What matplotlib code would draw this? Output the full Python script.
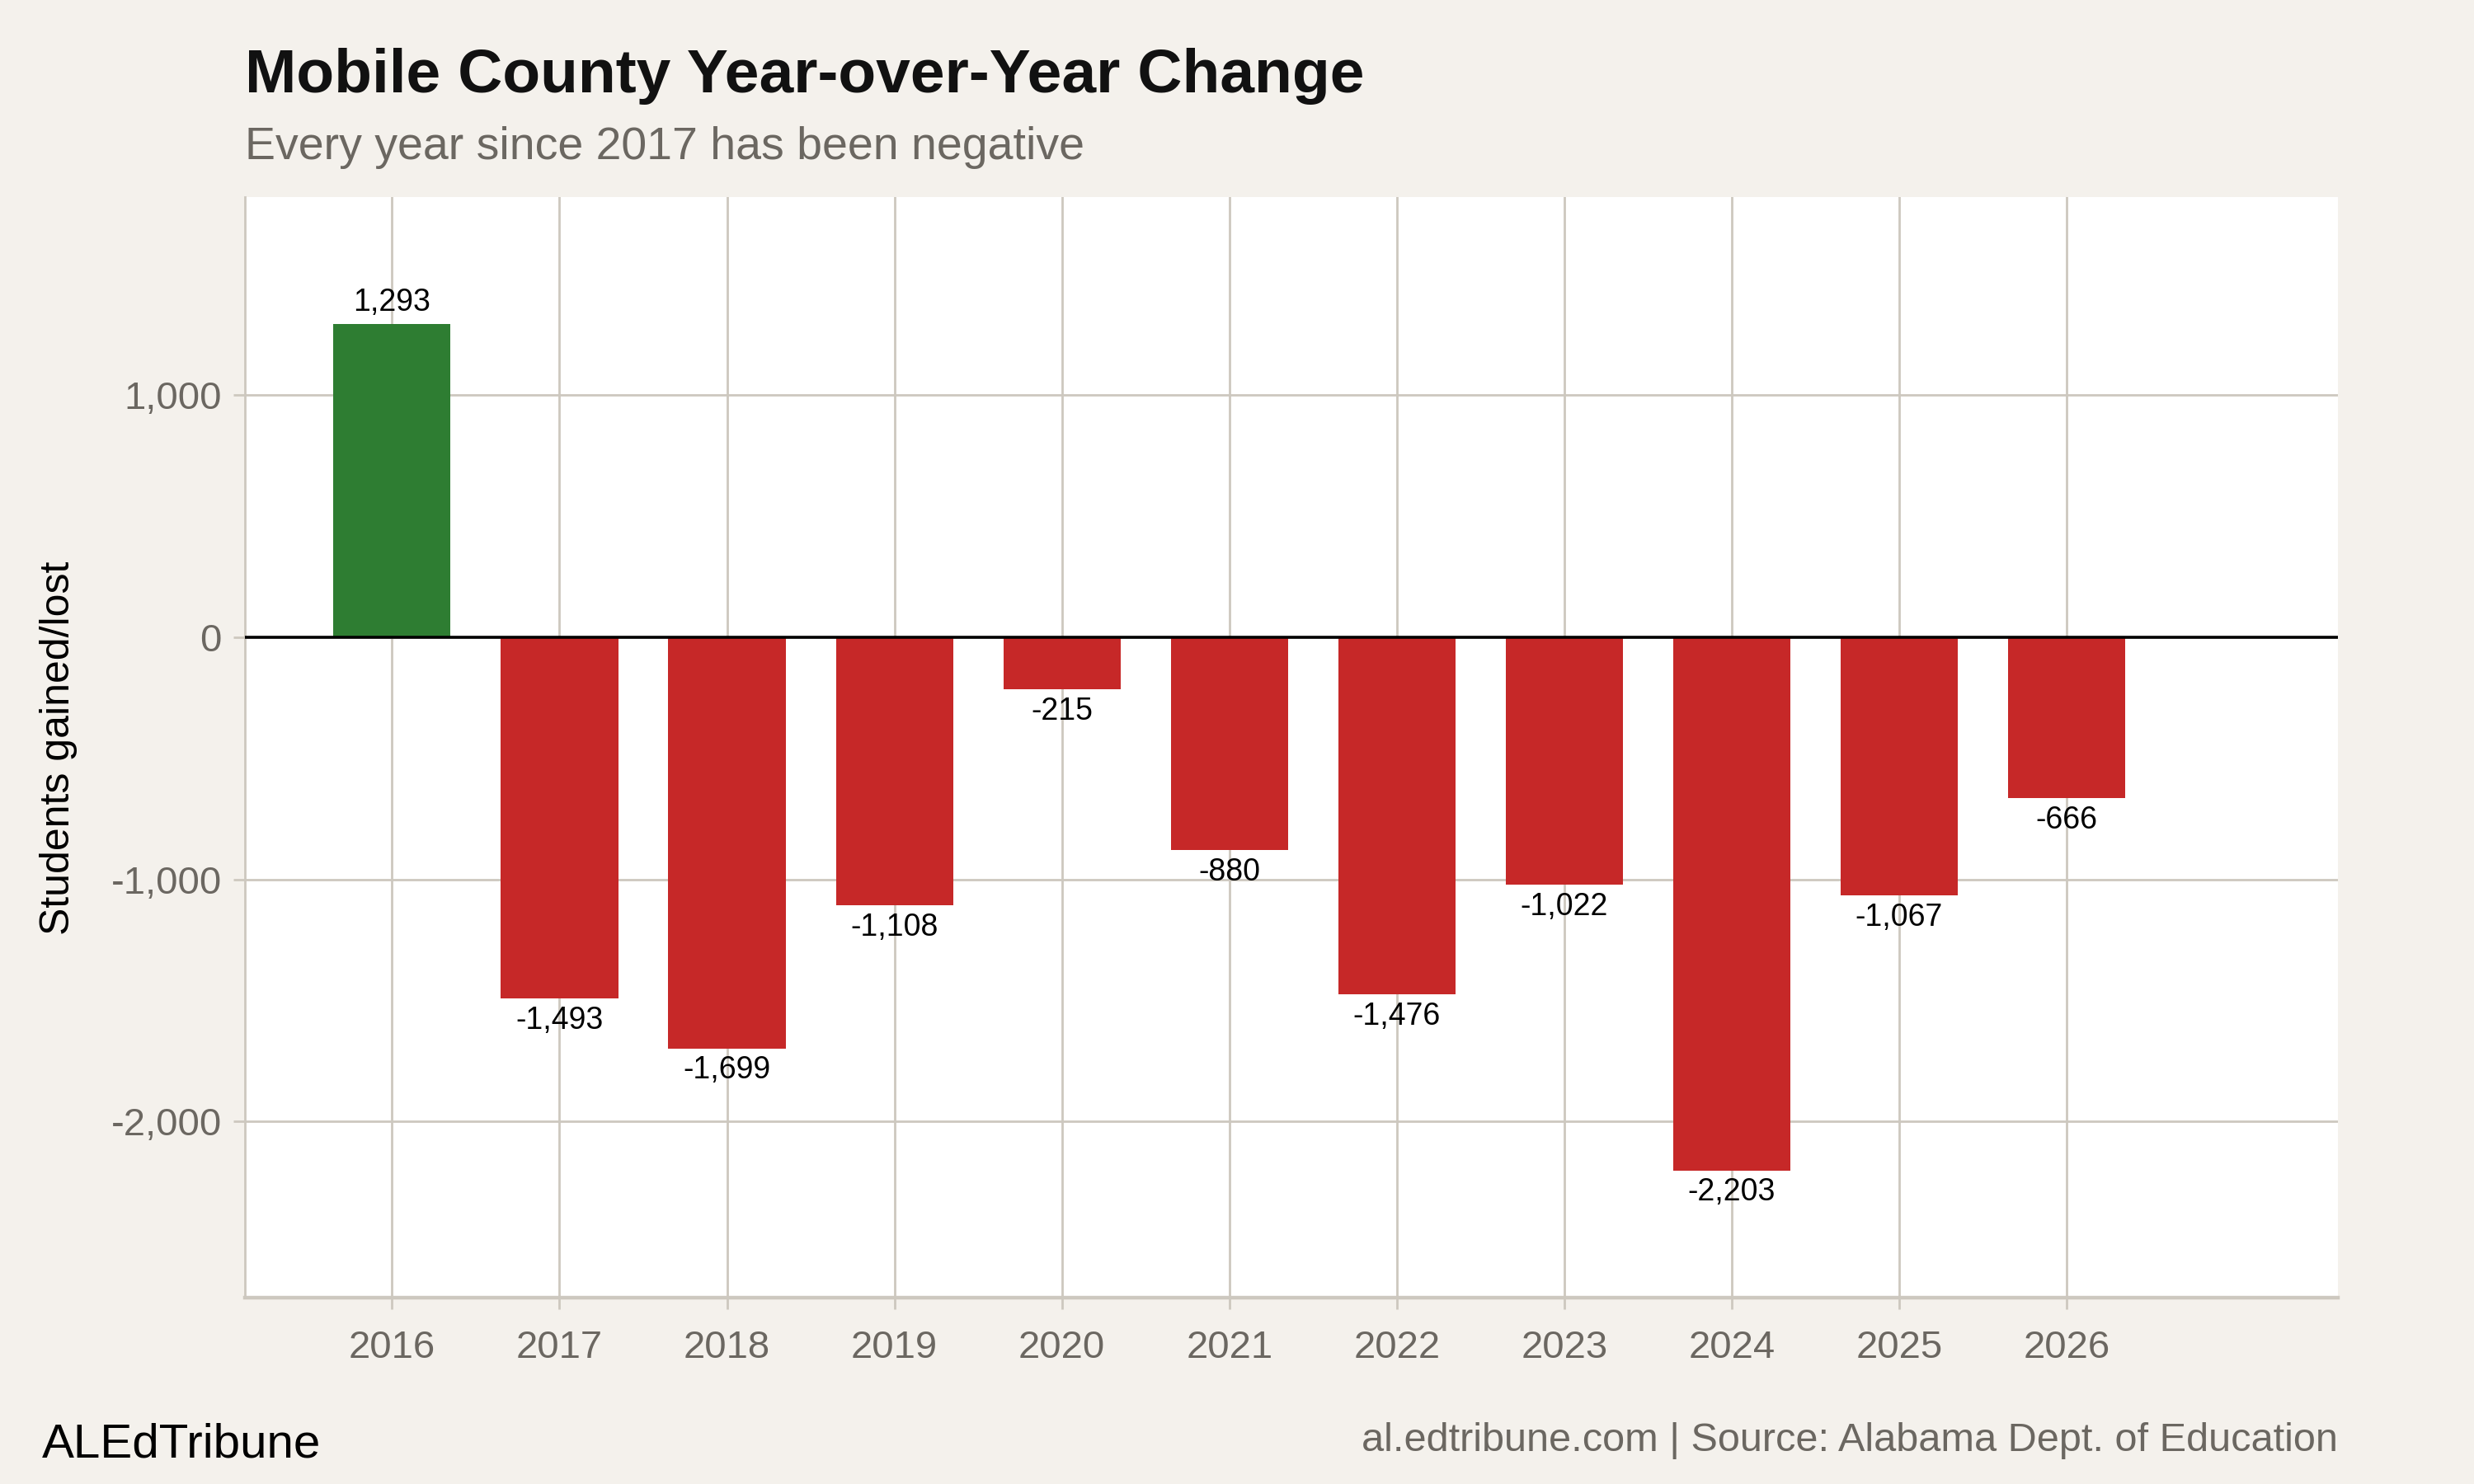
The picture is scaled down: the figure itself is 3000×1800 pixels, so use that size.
import matplotlib
matplotlib.use("Agg")
import matplotlib.pyplot as plt
from matplotlib.ticker import FuncFormatter

# data
years = [2016, 2017, 2018, 2019, 2020, 2021, 2022, 2023, 2024, 2025, 2026]
change = [1293, -1493, -1699, -1108, -215, -880, -1476, -1022, -2203, -1067, -666]

plt.rcParams['font.family'] = ['Liberation Sans', 'DejaVu Sans']

bg = '#f4f1ec'
grid_col = '#cdc8bf'
gray_txt = '#6b6761'

fig = plt.figure(figsize=(15, 9), dpi=200, facecolor=bg)
ax = fig.add_axes([0.0989, 0.1254, 0.9450 - 0.0989, 0.867 - 0.1254])
ax.set_facecolor('white')

colors = ['#2e7d32' if v > 0 else '#c62828' for v in change]
ax.bar(years, change, width=0.7, color=colors, zorder=3)
ax.axhline(0, color='black', lw=1.3, zorder=4)

for x, v in zip(years, change):
    if v > 0:
        ax.text(x, v + 30, f'{v:,}', ha='center', va='bottom', fontsize=13.5, color='black', zorder=5)
    else:
        ax.text(x, v - 30, f'{v:,}', ha='center', va='top', fontsize=13.5, color='black', zorder=5)

ax.set_xlim(2015.12, 2027.62)
ax.set_ylim(-2730, 1818)
ax.set_xticks(years)
ax.set_yticks([-2000, -1000, 0, 1000])
ax.yaxis.set_major_formatter(FuncFormatter(lambda v, p: f'{int(v):,}'))
ax.grid(True, color=grid_col, lw=1.0, zorder=0)

for s in ['top', 'right']:
    ax.spines[s].set_visible(False)
ax.spines['left'].set_color(grid_col)
ax.spines['left'].set_linewidth(1.0)
ax.spines['bottom'].set_color(grid_col)
ax.spines['bottom'].set_linewidth(1.6)
ax.tick_params(axis='both', colors=grid_col, length=5, width=1.0, labelcolor=gray_txt, labelsize=17)
ax.tick_params(axis='x', pad=9)
ax.tick_params(axis='y', pad=5)

fig.text(0.0236, (0.867 + 0.1254) / 2, 'Students gained/lost', rotation=90,
         ha='center', va='center', fontsize=18, color='black')

fig.text(0.0989, 0.938, 'Mobile County Year-over-Year Change', fontsize=27,
         fontweight='bold', color='#111111', ha='left', va='baseline')
fig.text(0.0989, 0.893, 'Every year since 2017 has been negative', fontsize=20,
         color=gray_txt, ha='left', va='baseline')

fig.text(0.017, 0.018, 'ALEdTribune', fontsize=21, color='black', ha='left', va='baseline')
fig.text(0.945, 0.022, 'al.edtribune.com | Source: Alabama Dept. of Education', fontsize=17.5,
         color=gray_txt, ha='right', va='baseline')

fig.savefig('out.png', dpi=200, facecolor=bg)
